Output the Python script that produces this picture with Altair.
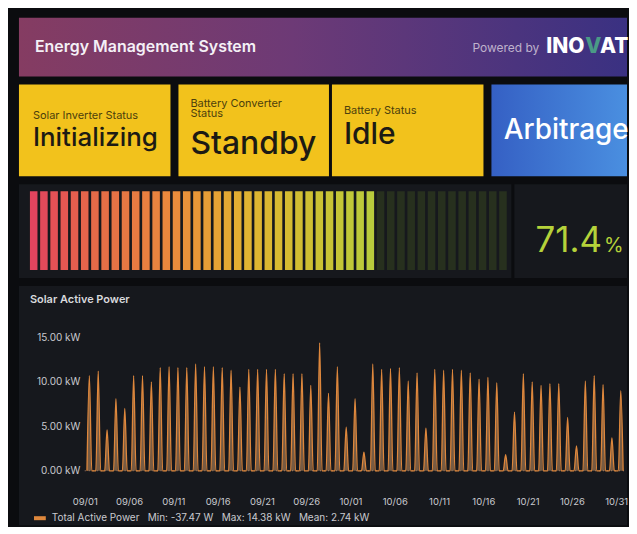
import altair as alt
import pandas as pd

FONT = "Inter"

# ---------------- data ----------------
header_title = ["Energy Management System"]
brand_parts = ["Powered by", "INO", "V", "AT"]

status_titles = ["Solar Inverter Status", "Battery Converter\nStatus", "Battery Status"]
status_values = ["Initializing", "Standby", "Idle"]
mode_value = ["Arbitrage"]

gauge_value = 71.4
gauge_cells = 47

series_name = "Total Active Power"
legend_stats = ["Min: -37.47 W", "Max: 14.38 kW", "Mean: 2.74 kW"]

# daily peak of solar active power (kW), 09/01 .. 10/31
peaks_kw = [10.7, 11.2, 4.6, 8.1, 7.0, 10.7, 10.7, 10.0, 11.6, 11.7,
            11.6, 11.6, 12.0, 11.7, 11.7, 11.6, 11.3, 9.4, 11.4, 11.4,
            11.4, 11.4, 10.9, 10.9, 10.9, 9.6, 14.38, 8.7, 11.7, 4.9,
            8.1, 2.1, 12.0, 11.4, 11.5, 11.6, 10.1, 11.0, 4.8, 11.4,
            11.3, 11.4, 11.3, 11.0, 10.3, 10.5, 9.9, 1.8, 6.6, 10.9,
            10.0, 9.6, 9.8, 9.8, 6.0, 2.8, 10.1, 10.7, 9.7, 3.7, 9.0]

x_tick_dates = [(9, 1), (9, 6), (9, 11), (9, 16), (9, 21), (9, 26), (10, 1),
                (10, 6), (10, 11), (10, 16), (10, 21), (10, 26), (10, 31)]
y_ticks = [0, 5, 10, 15]

# ---------------- colours ----------------
BG = "#0b0c0f"
PANEL = "#16181d"
YELLOW = "#f2c21c"
ORANGE = "#de873c"
TXT = "#c9cacf"

W = 610  # width of every dashboard row

# ---------------- header ----------------
hdr_df = pd.DataFrame({"t": header_title})
hdr_grad = alt.LinearGradient(
    gradient="linear", x1=0, y1=0, x2=1, y2=0,
    stops=[alt.GradientStop(color="#853c62", offset=0),
           alt.GradientStop(color="#6d3a76", offset=0.45),
           alt.GradientStop(color="#3a3182", offset=1)])
hbase = alt.Chart(hdr_df)
h_bg = hbase.mark_rect(color=hdr_grad).encode(
    x=alt.value(0), x2=alt.value(W), y=alt.value(0), y2=alt.value(59))
h_title = hbase.mark_text(align="left", baseline="middle", font=FONT, fontSize=16,
                          fontWeight=600, color="#f4f0f6").encode(
    x=alt.value(16), y=alt.value(29), text="t:N")
h_pow = hbase.mark_text(align="left", baseline="middle", font=FONT, fontSize=12,
                        color="#bfb2cc").encode(
    x=alt.value(455), y=alt.value(30), text=alt.value(brand_parts[0]))
h_ino = hbase.mark_text(align="left", baseline="middle", font=FONT, fontSize=21,
                        fontWeight=800, color="#ffffff").encode(
    x=alt.value(529), y=alt.value(29), text=alt.value(brand_parts[1]))
h_v = hbase.mark_text(align="left", baseline="middle", font=FONT, fontSize=21,
                      fontWeight=800, color="#4a9a86").encode(
    x=alt.value(568), y=alt.value(29), text=alt.value(brand_parts[2]))
h_at = hbase.mark_text(align="left", baseline="middle", font=FONT, fontSize=21,
                       fontWeight=800, color="#ffffff").encode(
    x=alt.value(583), y=alt.value(29), text=alt.value(brand_parts[3]))
header = alt.layer(h_bg, h_title, h_pow, h_ino, h_v, h_at).properties(width=W, height=59)


# ---------------- status row ----------------
def status_panel(idx, width, tx, ty, vy, vsize):
    df = pd.DataFrame({"title": [status_titles[idx]], "value": [status_values[idx]]})
    base = alt.Chart(df)
    t = base.mark_text(align="left", baseline="top", font=FONT, fontSize=11,
                       color="#4d3f0c", lineBreak="\n", lineHeight=11).encode(
        x=alt.value(tx), y=alt.value(ty), text="title:N")
    v = base.mark_text(align="left", baseline="middle", font=FONT, fontSize=vsize,
                       fontWeight=500, color="#1c1a14").encode(
        x=alt.value(tx), y=alt.value(vy), text="value:N")
    return alt.layer(t, v).properties(
        width=width, height=92, view=alt.ViewBackground(fill=YELLOW, strokeWidth=0))


p1 = status_panel(0, 152, 14, 26, 54, 26)
p2 = status_panel(1, 151, 12, 13, 60, 32)
p3 = status_panel(2, 152, 12, 21, 51, 30)

P4W = W - 152 - 8 - 151 - 3 - 152 - 8
arb_grad = alt.LinearGradient(
    gradient="linear", x1=0, y1=0, x2=1, y2=0,
    stops=[alt.GradientStop(color="#3560c4", offset=0),
           alt.GradientStop(color="#4a8fe0", offset=1)])
abase = alt.Chart(pd.DataFrame({"m": mode_value}))
a_bg = abase.mark_rect(color=arb_grad).encode(
    x=alt.value(0), x2=alt.value(P4W), y=alt.value(0), y2=alt.value(92))
a_txt = abase.mark_text(align="center", baseline="middle", font=FONT, fontSize=28,
                        fontWeight=500, color="#ffffff").encode(
    x=alt.value(75), y=alt.value(47), text="m:N")
p4 = alt.layer(a_bg, a_txt).properties(width=P4W, height=92)

status_row = alt.hconcat(p1, alt.hconcat(p2, p3, spacing=3), p4, spacing=8)

# ---------------- gauge row ----------------
cells = pd.DataFrame({"i": list(range(gauge_cells))})
cells["x0"] = cells["i"]
cells["x1"] = cells["i"] + 0.74
cells["lit"] = cells["i"] * 100.0 / gauge_cells <= gauge_value

gx = alt.Scale(domain=[0, gauge_cells], range=[11, 492])
gbase = alt.Chart(cells)
unlit = gbase.transform_filter("!datum.lit").mark_rect(color="#29331f", opacity=0.9).encode(
    x=alt.X("x0:Q", scale=gx, axis=None), x2="x1:Q",
    y=alt.value(7), y2=alt.value(86))
lit = gbase.transform_filter("datum.lit").mark_rect().encode(
    x=alt.X("x0:Q", scale=gx, axis=None), x2="x1:Q",
    y=alt.value(7), y2=alt.value(86),
    color=alt.Color("i:Q", legend=None,
                    scale=alt.Scale(domain=[0, 6, 14, 21, 33],
                                    range=["#e2445e", "#e46a48", "#ea8c3c", "#e0b332", "#b9cc3c"])))
gauge = alt.layer(unlit, lit).properties(
    width=494, height=94, view=alt.ViewBackground(fill=PANEL, strokeWidth=0))

pbase = alt.Chart(pd.DataFrame({"v": [gauge_value]}))
num = pbase.mark_text(align="right", baseline="alphabetic", font=FONT, fontSize=35,
                      fontWeight=400, color="#b5d23a").encode(
    x=alt.value(88), y=alt.value(68), text=alt.Text("v:Q", format=".1f"))
sign = pbase.mark_text(align="left", baseline="alphabetic", font=FONT, fontSize=20,
                       fontWeight=400, color="#b5d23a").encode(
    x=alt.value(90), y=alt.value(68), text=alt.value("%"))
pct = alt.layer(num, sign).properties(
    width=W - 494 - 3, height=94, view=alt.ViewBackground(fill=PANEL, strokeWidth=0))

gauge_row = alt.hconcat(gauge, pct, spacing=3)

# ---------------- time series ----------------
start = pd.Timestamp("2024-09-01T00:00:00")
rows = []
for d, p in enumerate(peaks_kw):
    day = start + pd.Timedelta(days=d)
    rows.append((day + pd.Timedelta(hours=6), 0.0))
    rows.append((day + pd.Timedelta(hours=12.5), p))
    rows.append((day + pd.Timedelta(hours=19), 0.0))
ts = pd.DataFrame(rows, columns=["time", "kw"])
ts["time"] = ts["time"].dt.strftime("%Y-%m-%dT%H:%M:%SZ")
ts["series"] = series_name

TS_H = 240
xscale = alt.Scale(type="utc",
                   domain=[alt.DateTime(year=2024, month=9, date=1, utc=True),
                           alt.DateTime(year=2024, month=11, date=1, utc=True)],
                   range=[66, 608])
xaxis = alt.Axis(values=[alt.DateTime(year=2024, month=m, date=dd, utc=True) for m, dd in x_tick_dates],
                 labelExpr="utcFormat(datum.value, '%m/%d')", title=None,
                 domain=False, ticks=False, tickSize=0, grid=False, offset=-31,
                 labelFlush=False, labelOverlap=False,
                 labelPadding=2, labelFontSize=9.5, labelColor=TXT, labelFont=FONT, zindex=1)
yscale = alt.Scale(domain=[-0.4, 16.4], nice=False, zero=False, range=[189, 39])
yaxis = alt.Axis(values=y_ticks, labelExpr="format(datum.value, '.2f') + ' kW'", title=None,
                 domain=False, ticks=False, tickSize=0, grid=False, offset=-66,
                 labelPadding=5, labelFontSize=10, labelColor=TXT, labelFont=FONT, zindex=1)

ts_title = alt.Chart(pd.DataFrame({"t": ["Solar Active Power"]})).mark_text(
    align="left", baseline="middle", font=FONT, fontSize=11, fontWeight=600,
    color="#d8d9dc").encode(x=alt.value(11), y=alt.value(14), text="t:N")

zero_df = pd.DataFrame({"t0": ["2024-09-01T00:00:00Z"], "t1": ["2024-11-01T00:00:00Z"], "y": [0.0]})
zero_rule = alt.Chart(zero_df).mark_rule(
    color="#d9a48c", strokeDash=[1, 3], strokeWidth=1.2, opacity=0.7).encode(
    x=alt.X("t0:T", scale=xscale, axis=xaxis), x2="t1:T",
    y=alt.Y("y:Q", scale=yscale, axis=yaxis))

tbase = alt.Chart(ts)
area = tbase.mark_area(interpolate="monotone", color="#c99462", fillOpacity=0.55).encode(
    x=alt.X("time:T", scale=xscale, axis=xaxis),
    y=alt.Y("kw:Q", scale=yscale, axis=yaxis))
SP = "\u00a0\u00a0\u00a0"
stats = SP.join(legend_stats)
line = tbase.mark_line(interpolate="monotone", strokeWidth=1.3).encode(
    x=alt.X("time:T", scale=xscale, axis=xaxis),
    y=alt.Y("kw:Q", scale=yscale, axis=yaxis),
    color=alt.Color("series:N", scale=alt.Scale(range=[ORANGE]),
                    legend=alt.Legend(orient="none", legendX=13, legendY=225, title=None,
                                      symbolType="stroke", symbolStrokeWidth=4, symbolSize=140,
                                      labelExpr=f"datum.label + '{SP}{stats}'",
                                      labelFontSize=10, labelColor=TXT, labelFont=FONT,
                                      labelLimit=0, zindex=1)))

ts_chart = alt.layer(zero_rule, area, line, ts_title).properties(
    width=W, height=TS_H, view=alt.ViewBackground(fill=PANEL, strokeWidth=0))

chart = alt.vconcat(header, status_row, gauge_row, ts_chart, spacing=8).properties(
    padding={"left": 11, "top": 9, "right": 0, "bottom": 0},
    background=BG,
).configure_view(strokeWidth=0)

chart.save("out.html", embed_options={"renderer": "svg", "actions": False})
